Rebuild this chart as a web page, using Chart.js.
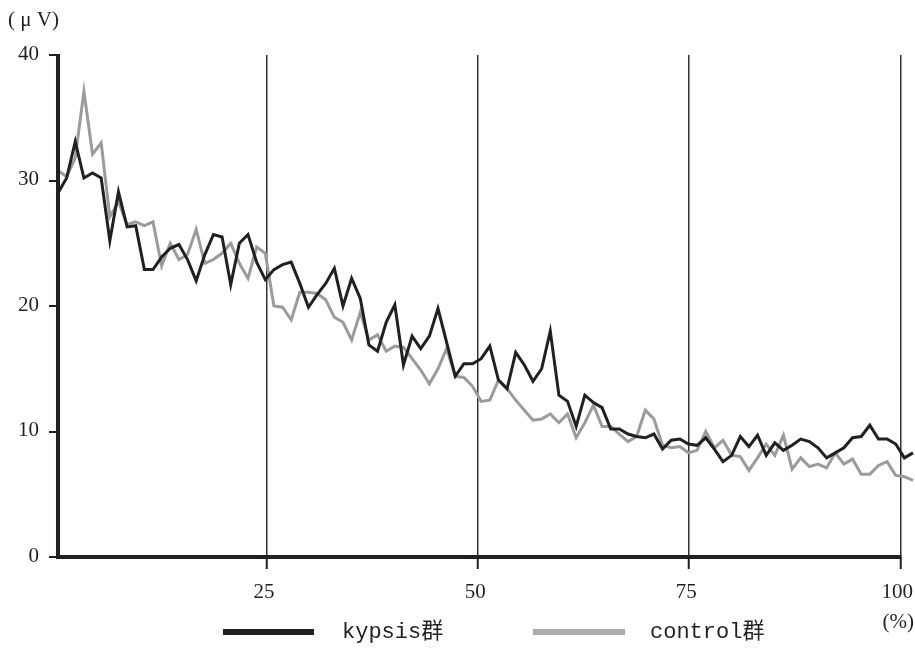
<!DOCTYPE html>
<html>
<head>
<meta charset="utf-8">
<script src="https://cdn.jsdelivr.net/npm/chart.js@4/dist/chart.umd.min.js"></script>
<style>
  html, body { margin: 0; padding: 0; background: #ffffff; }
  #wrap { width: 915px; height: 648px; position: relative; }
  canvas { display: block; }
</style>
</head>
<body>
<div id="wrap"><canvas id="c" width="915" height="648"></canvas></div>
<script>
// ---- data ----
const samples = Array.from({ length: 100 }, (_, i) => i + 1);   // sample index along the x axis
const kypsis = [
  29.0, 30.2, 33.1, 30.2, 30.6, 30.2, 25.2, 29.1, 26.3, 26.4,
  22.9, 22.9, 23.9, 24.6, 24.9, 23.7, 22.0, 24.1, 25.7, 25.5,
  21.7, 25.0, 25.7, 23.5, 22.1, 22.9, 23.3, 23.5, 21.8, 19.9,
  20.9, 21.8, 23.0, 20.0, 22.2, 20.6, 16.9, 16.4, 18.7, 20.1,
  15.3, 17.6, 16.6, 17.6, 19.8, 17.1, 14.4, 15.4, 15.4, 15.8,
  16.8, 14.1, 13.4, 16.3, 15.3, 14.0, 15.0, 18.0, 12.9, 12.4,
  10.4, 12.9, 12.3, 11.9, 10.2, 10.2, 9.8, 9.6, 9.5, 9.8,
  8.6, 9.3, 9.4, 9.0, 8.9, 9.5, 8.6, 7.6, 8.1, 9.6,
  8.8, 9.7, 8.1, 9.1, 8.5, 8.9, 9.4, 9.2, 8.7, 7.9,
  8.3, 8.7, 9.5, 9.6, 10.5, 9.4, 9.4, 9.0, 7.9, 8.3
];
const control = [
  30.8, 30.3, 31.8, 37.1, 32.1, 33.0, 27.1, 28.3, 26.5, 26.7,
  26.4, 26.7, 23.2, 25.0, 23.7, 24.1, 26.1, 23.4, 23.7, 24.2,
  25.0, 23.4, 22.2, 24.7, 24.2, 20.0, 19.9, 18.9, 21.1, 21.1,
  21.0, 20.5, 19.1, 18.7, 17.3, 19.5, 17.3, 17.7, 16.4, 16.8,
  16.7, 15.8, 14.9, 13.8, 15.0, 16.6, 14.4, 14.3, 13.6, 12.4,
  12.5, 14.1, 13.4, 12.5, 11.7, 10.9, 11.0, 11.4, 10.7, 11.4,
  9.5, 10.7, 12.1, 10.4, 10.4, 9.8, 9.2, 9.6, 11.7, 11.0,
  8.9, 8.7, 8.8, 8.3, 8.5, 10.0, 8.7, 9.3, 8.1, 8.0,
  6.9, 7.9, 9.0, 8.1, 9.7, 7.0, 7.9, 7.2, 7.4, 7.1,
  8.3, 7.4, 7.8, 6.6, 6.6, 7.3, 7.6, 6.5, 6.4, 6.1
];
const seriesNames = ['kypsis群', 'control群'];
const yTicks = [0, 10, 20, 30, 40];
const pctTicks = [25, 50, 75, 100];
const yUnit = '( \u03bc V)';
const xUnit = '(%)';

// ---- styling ----
const INK = '#231f20';
const GRAY = '#9b9b9b';
const LEGEND_GRAY = '#ababab';
const NUM_FONT = '"Liberation Serif", "DejaVu Serif", serif';
const LEG_FONT = '"Liberation Mono", "Noto Sans CJK JP", monospace';

const decor = {
  id: 'decor',
  afterDraw(chart) {
    const { ctx, chartArea } = chart;
    const y = chart.scales.y;
    const pct = chart.scales.pct;
    ctx.save();
    ctx.strokeStyle = INK;
    ctx.lineCap = 'butt';
    // left axis
    ctx.lineWidth = 4;
    ctx.beginPath();
    ctx.moveTo(chartArea.left, y.getPixelForValue(yTicks[yTicks.length - 1]) - 1);
    ctx.lineTo(chartArea.left, y.getPixelForValue(0) + 2);
    ctx.stroke();
    // bottom axis (ends at 100 %)
    ctx.beginPath();
    ctx.moveTo(chartArea.left - 2, y.getPixelForValue(0));
    ctx.lineTo(pct.getPixelForValue(pctTicks[pctTicks.length - 1]) + 1, y.getPixelForValue(0));
    ctx.stroke();

    // units
    ctx.fillStyle = INK;
    ctx.font = '21px ' + NUM_FONT;
    ctx.textBaseline = 'middle';
    ctx.textAlign = 'left';
    ctx.fillText(yUnit, 8, 20);
    ctx.textAlign = 'right';
    ctx.fillText(xUnit, 914, 622);

    // legend
    const items = [
      { text: seriesNames[0], color: INK, x: 223, w: 91, tx: 342 },
      { text: seriesNames[1], color: LEGEND_GRAY, x: 533, w: 92, tx: 650 }
    ];
    ctx.font = '22px ' + LEG_FONT;
    ctx.textAlign = 'left';
    items.forEach(it => {
      ctx.fillStyle = it.color;
      ctx.fillRect(it.x, 629, it.w, 6);
      ctx.fillStyle = INK;
      ctx.fillText(it.text, it.tx, 632);
    });
    ctx.restore();
  }
};

new Chart(document.getElementById('c'), {
  type: 'line',
  data: {
    labels: samples,
    datasets: [
      { label: seriesNames[0], data: kypsis, borderColor: INK, borderWidth: 3, pointRadius: 0,
        tension: 0, borderJoinStyle: 'miter', fill: false },
      { label: seriesNames[1], data: control, borderColor: GRAY, borderWidth: 3, pointRadius: 0,
        tension: 0, borderJoinStyle: 'miter', fill: false }
    ]
  },
  options: {
    responsive: false,
    animation: false,
    devicePixelRatio: 1,
    layout: { padding: { top: 55, right: 2, left: 0, bottom: 0 } },
    plugins: { legend: { display: false }, tooltip: { enabled: false } },
    scales: {
      x: { type: 'category', display: false, offset: false },
      pct: {
        type: 'linear', position: 'bottom', axis: 'x',
        min: 0.24, max: 101.5,
        afterBuildTicks: s => { s.ticks = pctTicks.map(v => ({ value: v })); },
        afterFit: s => { s.height = 91; s.paddingLeft = 0; s.paddingRight = 0; },
        border: { display: false },
        grid: { display: true, drawOnChartArea: true, drawTicks: true, tickLength: 12,
                color: '#333333', lineWidth: 1.5, tickColor: INK, tickWidth: 2 },
        ticks: { font: { family: NUM_FONT, size: 21 }, color: INK, padding: 11, labelOffset: -3,
                 maxRotation: 0, autoSkip: false, callback: v => String(v) }
      },
      y: {
        type: 'linear', position: 'left',
        min: 0, max: 40,
        afterBuildTicks: s => { s.ticks = yTicks.map(v => ({ value: v })); },
        afterFit: s => { s.width = 58; s.paddingTop = 0; s.paddingBottom = 0; },
        border: { display: false },
        grid: { display: true, drawOnChartArea: false, drawTicks: true, tickLength: 9,
                color: INK, lineWidth: 2 },
        ticks: { font: { family: NUM_FONT, size: 21 }, color: INK, padding: 10, labelOffset: -1,
                 callback: v => String(v) }
      }
    }
  },
  plugins: [decor]
});
</script>
</body>
</html>
